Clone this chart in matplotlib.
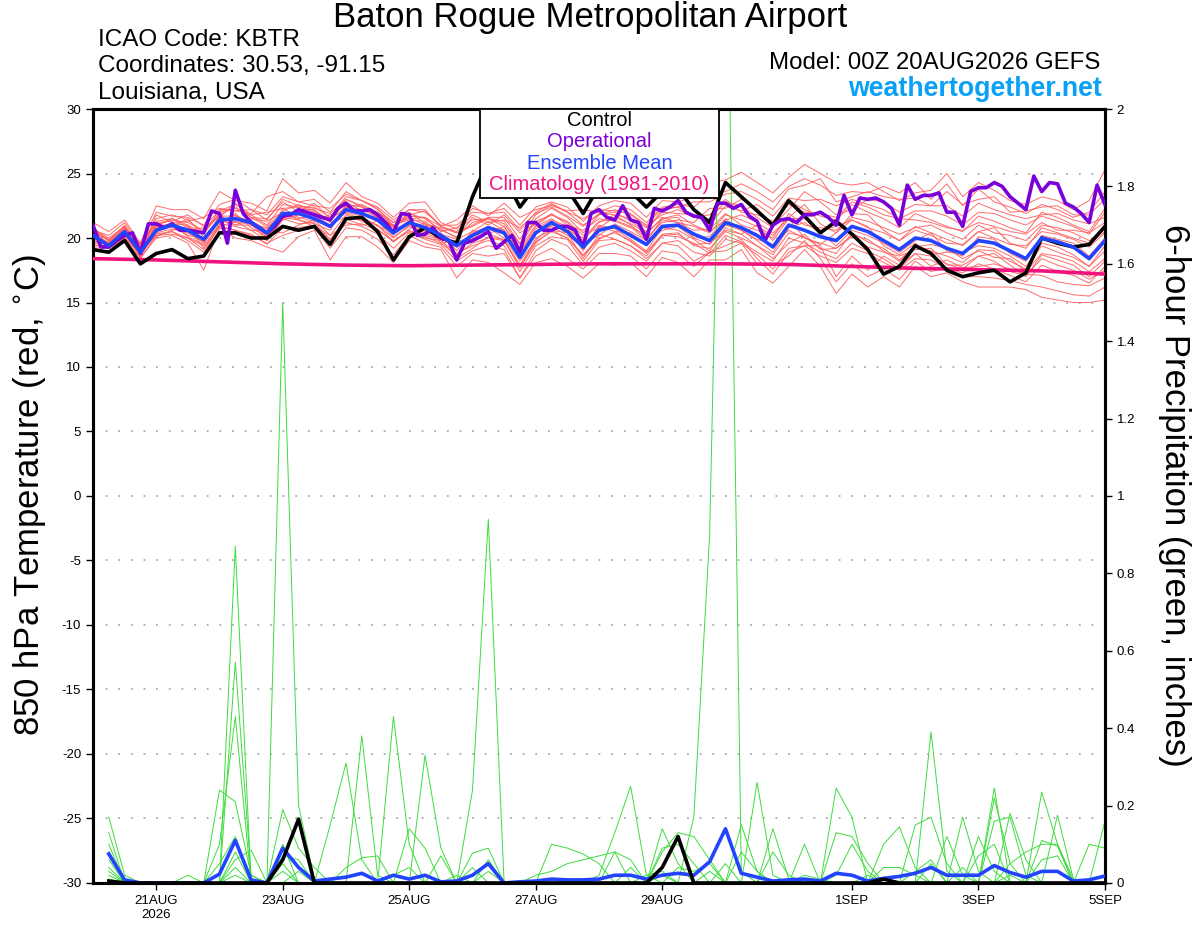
import numpy as np
import matplotlib
matplotlib.use('Agg')
import matplotlib.pyplot as plt
from matplotlib.patches import Rectangle

plt.rcParams['font.family'] = ['Liberation Sans', 'DejaVu Sans']
plt.rcParams['axes.unicode_minus'] = False

# 850 hPa temperature, 6-hourly from 20AUG 00Z to 5SEP 00Z (65 steps)
control_t = [19.1, 18.9, 19.8, 18.0, 18.8, 19.1, 18.4, 18.6, 20.4, 20.4,
             20.0, 20.0, 20.9, 20.6, 20.9, 19.5, 21.5, 21.6, 20.5, 18.3,
             20.1, 20.8, 20.0, 19.6, 23.2, 26.0, 24.8, 22.4, 24.0, 24.5,
             23.8, 21.9, 24.0, 23.8, 23.6, 22.4, 23.6, 23.8, 22.2, 21.2,
             24.3, 23.2, 22.1, 21.0, 22.9, 21.7, 20.4, 21.3, 20.3, 19.1,
             17.2, 17.8, 19.4, 18.8, 17.5, 17.0, 17.3, 17.5, 16.6, 17.3,
             20.0, 19.6, 19.3, 19.5, 20.9]

mean_t = [20.2, 19.4, 20.5, 18.9, 20.6, 21.0, 20.6, 19.9, 21.4, 21.5,
          21.2, 20.4, 21.9, 21.9, 21.5, 20.9, 22.2, 21.9, 21.4, 20.4,
          21.2, 20.8, 20.2, 19.4, 20.2, 20.8, 20.4, 18.5, 20.4, 21.2,
          20.5, 19.3, 20.6, 20.9, 20.2, 19.5, 20.9, 21.0, 20.3, 19.8,
          21.2, 20.8, 20.2, 19.3, 21.0, 20.6, 20.1, 19.8, 20.9, 20.5,
          19.8, 19.1, 20.0, 19.8, 19.2, 18.8, 19.8, 19.6, 19.0, 18.4,
          20.0, 19.7, 19.3, 18.4, 19.8]

# operational run is 3-hourly (129 steps)
oper_t = [21.0, 19.3, 19.3, 19.8, 20.2, 20.4, 18.8, 21.1, 21.1, 20.8,
          21.1, 20.6, 20.6, 20.5, 20.4, 22.1, 21.9, 19.6, 23.7, 21.9,
          21.2, 20.8, 20.4, 20.9, 21.7, 21.8, 22.2, 22.0, 21.8, 21.6,
          21.4, 22.3, 22.7, 22.1, 22.1, 22.2, 21.8, 21.2, 20.4, 21.9,
          21.8, 20.2, 20.3, 20.8, 20.0, 19.8, 18.3, 19.6, 19.8, 20.1,
          20.5, 19.2, 19.7, 20.2, 18.9, 21.2, 21.2, 20.6, 20.6, 20.9,
          20.9, 20.6, 19.3, 21.9, 22.2, 21.6, 21.4, 22.5, 21.4, 21.2,
          19.9, 22.3, 22.1, 22.4, 22.9, 22.0, 21.7, 21.6, 20.6, 22.7,
          22.7, 22.3, 22.6, 21.7, 21.3, 19.8, 21.0, 21.4, 21.5, 21.2,
          21.8, 21.8, 22.0, 21.6, 21.0, 23.3, 21.8, 23.1, 23.0, 23.1,
          22.8, 22.3, 21.0, 24.1, 23.0, 23.3, 23.3, 23.5, 22.0, 22.0,
          20.9, 23.6, 23.9, 23.9, 24.3, 24.0, 23.2, 22.7, 22.2, 24.8,
          23.6, 24.3, 24.2, 22.7, 22.4, 21.9, 21.2, 24.1, 22.6]

# climatology, daily values
clim_t = [18.4, 18.3, 18.15, 18.0, 17.9, 17.85, 17.9, 17.95, 18.0,
          18.0, 18.0, 17.95, 17.8, 17.65, 17.55, 17.45, 17.2]

members_t = [
    [20.8, 19.8, 21.0, 19.2, 21.3, 21.5, 21.0, 20.3, 22.0, 22.3, 21.8, 21.0, 22.6, 22.4, 22.0, 21.3, 23.0, 22.5, 21.9, 20.8,
     21.9, 21.5, 20.6, 20.1, 21.2, 21.5, 21.3, 19.6, 21.5, 22.3, 21.6, 20.4, 21.8, 22.0, 21.3, 20.5, 22.2, 22.4, 21.6, 21.5,
     22.8, 22.5, 21.6, 20.8, 22.9, 22.2, 21.7, 21.4, 22.6, 22.0, 21.5, 20.8, 21.9, 21.4, 20.9, 20.5, 21.7, 21.3, 20.8, 20.4,
     22.0, 21.6, 21.0, 20.5, 22.3],
    [19.5, 19.2, 20.0, 18.4, 20.2, 20.5, 19.8, 18.9, 20.9, 20.6, 20.3, 19.5, 20.8, 20.8, 21.0, 19.8, 21.2, 20.9, 20.3, 19.2,
     20.4, 19.9, 19.5, 18.2, 19.0, 19.4, 19.1, 16.9, 19.0, 19.9, 19.4, 17.9, 19.3, 19.6, 19.0, 18.2, 19.6, 19.8, 18.9, 18.6,
     19.9, 19.6, 18.7, 17.6, 19.2, 19.4, 18.6, 18.1, 19.2, 18.8, 18.1, 17.5, 18.4, 18.3, 17.6, 17.3, 18.0, 17.6, 17.1, 16.6,
     17.9, 17.4, 17.1, 16.5, 17.8],
    [21.2, 20.5, 21.4, 19.6, 22.5, 22.2, 22.2, 21.5, 23.6, 22.9, 22.7, 22.1, 24.6, 23.5, 23.7, 22.7, 24.3, 23.2, 22.7, 21.6,
     22.7, 22.8, 21.2, 20.7, 22.3, 21.9, 22.3, 21.0, 22.4, 22.8, 22.4, 21.3, 22.5, 22.9, 22.7, 21.6, 22.9, 22.8, 23.2, 24.3,
     24.5, 25.1, 24.3, 23.5, 24.7, 25.7, 25.0, 24.3, 24.1, 24.3, 23.6, 22.9, 23.5, 23.7, 25.0, 23.2, 24.3, 23.7, 22.9, 22.6,
     23.2, 22.9, 22.2, 22.9, 25.3],
    [19.2, 19.3, 19.7, 18.5, 20.0, 20.2, 19.6, 17.5, 20.8, 20.0, 19.8, 19.3, 18.9, 20.1, 20.6, 18.3, 20.1, 20.1, 19.3, 18.1,
     19.8, 19.3, 19.1, 16.9, 18.3, 18.1, 17.3, 16.4, 18.1, 18.4, 17.8, 16.9, 18.0, 17.9, 18.1, 17.0, 18.5, 18.1, 17.0, 18.3,
     18.3, 19.1, 17.3, 16.5, 17.8, 19.1, 17.8, 15.7, 17.2, 16.2, 17.0, 16.2, 17.8, 17.0, 17.3, 16.6, 16.2, 16.2, 16.2, 16.0,
     15.4, 15.2, 15.0, 15.0, 15.2],
    [20.4, 19.9, 20.8, 19.0, 21.0, 21.4, 21.2, 20.6, 21.8, 21.0, 21.5, 21.3, 22.0, 21.4, 21.1, 20.6, 22.6, 22.4, 21.8, 20.9,
     21.6, 21.0, 20.7, 20.0, 21.6, 21.0, 21.8, 20.4, 21.1, 21.9, 21.0, 20.6, 21.5, 21.3, 20.8, 20.3, 21.6, 21.2, 20.9, 20.4,
     21.8, 21.4, 20.9, 20.2, 21.6, 22.6, 21.1, 20.4, 21.9, 21.8, 20.6, 19.8, 20.9, 20.4, 19.9, 19.4, 20.5, 20.8, 19.6, 19.2,
     20.8, 20.4, 20.0, 19.6, 20.5],
    [20.0, 19.5, 20.2, 18.8, 20.4, 20.7, 20.4, 19.7, 21.0, 21.9, 20.8, 20.1, 21.5, 22.2, 22.2, 21.2, 21.6, 21.4, 21.0, 20.0,
     21.0, 20.2, 19.9, 19.6, 19.7, 20.4, 19.8, 17.7, 20.0, 20.6, 20.0, 18.6, 19.9, 20.5, 19.7, 18.9, 20.3, 20.4, 19.4, 19.2,
     20.5, 20.0, 19.4, 18.7, 20.4, 20.1, 19.2, 18.8, 20.4, 19.7, 19.2, 18.3, 19.4, 19.0, 18.6, 18.1, 19.1, 19.0, 18.2, 17.6,
     19.4, 18.9, 18.5, 17.8, 19.0],
    [20.6, 20.2, 21.2, 19.4, 22.0, 21.7, 21.6, 21.0, 22.6, 23.0, 22.2, 21.8, 23.2, 22.8, 23.0, 22.0, 23.6, 22.9, 22.2, 21.2,
     22.2, 22.2, 20.9, 21.4, 22.5, 21.7, 22.7, 21.6, 22.2, 22.5, 22.1, 22.2, 22.0, 22.5, 22.2, 21.2, 22.4, 22.6, 22.4, 23.4,
     23.6, 24.2, 23.6, 22.8, 24.0, 24.6, 24.1, 23.3, 23.6, 23.5, 24.0, 23.5, 24.3, 23.0, 24.2, 22.5, 23.8, 22.8, 22.4, 21.9,
     22.6, 22.2, 21.6, 22.0, 23.6],
    [19.6, 19.6, 20.4, 19.1, 20.8, 20.9, 21.5, 20.1, 21.2, 21.8, 21.0, 20.8, 21.8, 22.0, 21.8, 21.0, 22.4, 22.2, 21.6, 20.6,
     21.3, 20.6, 20.4, 19.0, 20.6, 20.3, 20.9, 18.8, 20.7, 21.4, 20.9, 19.6, 20.2, 21.1, 20.5, 19.8, 21.5, 21.6, 20.0, 20.1,
     21.5, 20.6, 19.8, 18.9, 20.8, 21.2, 20.4, 19.4, 20.6, 20.2, 19.6, 18.9, 19.8, 20.4, 19.0, 18.6, 20.1, 19.9, 18.8, 18.2,
     20.2, 19.9, 19.6, 18.6, 20.0],
    [20.9, 19.3, 20.9, 19.0, 20.5, 21.1, 20.1, 19.5, 21.6, 21.3, 21.4, 20.0, 22.3, 21.6, 21.3, 21.8, 21.9, 21.5, 21.0, 19.7,
     20.7, 21.2, 19.6, 19.8, 19.9, 20.8, 20.0, 18.2, 19.8, 21.0, 20.8, 19.0, 21.0, 20.7, 19.9, 19.0, 20.8, 20.6, 19.9, 19.0,
     20.8, 20.3, 21.0, 19.8, 21.5, 20.0, 19.5, 20.4, 21.4, 20.9, 19.4, 18.7, 19.6, 18.7, 18.9, 18.9, 19.4, 19.2, 18.6, 17.8,
     19.6, 19.3, 18.7, 17.8, 19.4],
    [20.1, 19.7, 20.6, 18.7, 21.8, 21.2, 21.3, 21.6, 22.3, 22.1, 21.9, 23.2, 23.6, 22.8, 22.5, 22.3, 23.4, 22.9, 22.3, 20.9,
     21.8, 22.1, 20.9, 20.5, 21.8, 21.2, 21.4, 20.8, 21.9, 22.4, 21.7, 20.9, 21.9, 21.8, 21.5, 20.8, 22.0, 21.9, 21.8, 21.0,
     22.5, 22.1, 22.6, 21.7, 23.1, 22.9, 23.0, 22.5, 23.0, 22.6, 22.2, 21.5, 22.1, 22.1, 21.7, 21.0, 22.0, 21.9, 21.4, 21.0,
     21.7, 21.3, 20.9, 20.3, 22.0],
    [19.8, 19.5, 20.1, 19.3, 20.1, 20.6, 20.9, 19.2, 21.1, 20.9, 20.6, 20.5, 20.4, 21.0, 21.4, 20.2, 21.0, 21.1, 20.6, 19.8,
     20.5, 20.0, 19.8, 18.8, 19.4, 19.8, 19.4, 17.4, 19.4, 20.1, 19.9, 18.2, 19.8, 19.9, 19.4, 18.4, 19.6, 19.4, 18.2, 18.9,
     19.4, 19.9, 18.4, 17.2, 18.9, 19.4, 19.4, 17.0, 18.6, 17.5, 18.6, 17.9, 18.8, 17.8, 18.3, 17.7, 17.8, 18.0, 17.6, 17.2,
     17.1, 16.6, 16.4, 16.3, 16.9],
    [20.5, 19.8, 20.7, 19.5, 21.1, 20.8, 20.6, 20.8, 21.6, 22.7, 21.6, 21.5, 22.8, 22.0, 22.7, 21.5, 22.8, 22.1, 22.0, 21.0,
     21.7, 21.6, 20.5, 20.8, 21.4, 21.5, 21.1, 19.5, 21.3, 21.8, 21.2, 19.8, 21.2, 21.8, 21.0, 20.0, 21.2, 21.4, 21.2, 22.3,
     22.3, 23.0, 22.3, 21.0, 22.2, 23.6, 22.8, 21.8, 22.2, 23.0, 22.8, 22.0, 22.6, 22.5, 22.5, 21.7, 22.7, 22.2, 21.8, 21.5,
     21.8, 21.9, 21.4, 21.1, 21.6],
    [19.9, 19.6, 20.5, 18.6, 20.5, 21.0, 20.2, 20.0, 21.3, 21.2, 21.1, 19.8, 21.4, 21.8, 21.6, 20.9, 22.0, 21.7, 20.9, 20.5,
     21.1, 20.5, 20.1, 19.3, 20.4, 20.9, 20.6, 18.4, 20.5, 20.9, 20.2, 19.3, 20.9, 20.5, 20.4, 19.5, 20.6, 20.9, 20.0, 19.5,
     21.0, 20.6, 19.9, 19.5, 20.6, 20.0, 19.6, 19.2, 20.2, 19.9, 19.0, 18.2, 19.3, 19.5, 19.2, 18.4, 19.0, 18.5, 18.4, 17.4,
     18.8, 18.6, 18.2, 17.4, 18.4],
    [20.3, 19.4, 20.3, 19.0, 20.9, 21.1, 21.0, 19.8, 21.7, 21.7, 21.3, 20.7, 21.9, 21.5, 21.8, 20.8, 22.5, 21.8, 21.6, 21.0,
     21.4, 21.3, 20.3, 19.9, 20.5, 21.3, 20.6, 18.9, 20.9, 21.5, 20.6, 20.0, 21.3, 21.4, 20.9, 19.8, 21.4, 21.2, 20.6, 20.7,
     21.9, 21.0, 20.6, 20.0, 21.9, 21.0, 20.8, 20.6, 21.6, 21.3, 20.8, 20.3, 20.8, 21.0, 20.4, 19.9, 21.0, 20.4, 20.2, 19.8,
     21.0, 20.8, 20.4, 19.8, 20.7],
    [19.8, 19.2, 20.0, 18.9, 20.3, 20.5, 20.0, 19.1, 20.9, 21.3, 20.6, 19.8, 21.6, 21.4, 20.9, 20.2, 21.8, 21.3, 20.7, 19.7,
     20.6, 20.1, 19.6, 18.7, 19.6, 20.0, 19.8, 17.9, 19.7, 20.5, 20.0, 18.7, 20.0, 20.4, 19.8, 18.8, 20.2, 20.1, 19.6, 18.8,
     20.2, 19.7, 18.9, 18.2, 20.0, 19.6, 18.9, 18.4, 19.6, 19.0, 18.4, 17.6, 18.8, 18.6, 18.0, 17.6, 18.6, 18.8, 17.9, 17.0,
     18.7, 18.3, 17.9, 17.0, 18.2],
    [20.7, 20.0, 20.9, 19.4, 21.5, 21.8, 21.4, 20.4, 22.2, 22.1, 22.2, 21.4, 23.0, 22.5, 22.3, 21.9, 23.0, 22.4, 21.6, 20.9,
     22.0, 21.1, 20.8, 20.4, 21.0, 21.6, 21.6, 19.9, 21.8, 22.6, 22.0, 21.0, 21.8, 22.2, 21.8, 20.9, 21.8, 22.2, 21.6, 21.8,
     23.0, 22.0, 21.8, 21.3, 22.6, 22.0, 21.9, 21.6, 22.8, 22.4, 21.8, 21.5, 21.4, 21.2, 20.8, 20.6, 21.2, 20.9, 20.5, 20.3,
     21.2, 20.6, 20.6, 20.4, 21.2],
    [20.0, 19.3, 20.3, 18.5, 20.7, 20.9, 20.5, 19.6, 21.4, 21.0, 21.0, 20.2, 21.5, 21.1, 21.2, 19.9, 21.5, 21.0, 21.3, 20.1,
     20.9, 20.4, 19.9, 18.4, 19.2, 20.1, 19.9, 17.7, 19.6, 20.6, 20.4, 18.4, 20.3, 19.9, 19.4, 18.6, 20.2, 20.3, 19.5, 19.6,
     20.6, 20.3, 19.4, 18.4, 19.6, 20.3, 19.1, 19.2, 20.1, 19.3, 18.9, 18.6, 19.1, 19.2, 17.9, 17.9, 18.6, 18.2, 17.4, 17.1,
     18.4, 17.9, 17.5, 16.8, 17.5],
    [20.6, 19.8, 20.6, 19.2, 21.0, 21.5, 20.8, 20.4, 21.8, 22.4, 21.6, 20.9, 22.1, 22.6, 22.1, 21.4, 22.4, 22.6, 22.0, 21.2,
     21.5, 21.6, 20.9, 20.4, 20.9, 21.5, 20.9, 19.2, 21.0, 21.8, 21.3, 20.2, 20.8, 21.6, 21.1, 20.4, 21.5, 21.8, 21.0, 20.5,
     21.4, 21.8, 21.2, 20.4, 21.5, 21.5, 20.6, 20.9, 21.4, 20.8, 20.4, 19.8, 20.6, 20.2, 19.6, 19.5, 20.5, 20.0, 19.5, 19.4,
     20.5, 20.3, 19.9, 19.3, 20.4],
    [19.4, 19.4, 19.9, 18.8, 20.2, 20.3, 20.0, 19.4, 20.9, 20.6, 20.2, 19.6, 20.2, 20.6, 20.8, 19.2, 20.8, 20.6, 19.9, 18.7,
     20.2, 19.6, 19.3, 17.8, 18.8, 18.6, 18.8, 16.9, 18.6, 19.2, 18.4, 17.6, 18.8, 18.8, 18.6, 17.6, 19.0, 18.8, 17.8, 18.9,
     19.0, 19.6, 18.0, 17.9, 18.6, 19.8, 18.4, 16.6, 18.0, 17.0, 17.6, 16.8, 18.2, 17.4, 17.7, 17.0, 17.0, 16.9, 16.7, 16.4,
     16.2, 15.9, 15.6, 15.5, 16.2],
    [20.4, 19.6, 20.8, 19.6, 21.2, 21.3, 21.8, 20.9, 22.1, 22.6, 21.8, 22.0, 22.3, 22.4, 22.4, 21.6, 23.2, 22.9, 22.4, 21.4,
     22.2, 22.0, 21.0, 21.0, 22.0, 21.9, 22.0, 20.6, 22.0, 22.7, 22.0, 21.5, 22.2, 22.1, 21.9, 21.0, 22.3, 22.4, 22.8, 22.8,
     23.4, 23.6, 23.0, 22.2, 23.8, 24.1, 24.6, 22.8, 23.2, 23.6, 23.2, 23.0, 23.1, 22.5, 23.6, 22.6, 23.0, 23.2, 22.0, 22.1,
     22.4, 22.5, 21.8, 21.8, 23.0],
]

# 6-hour precipitation (inches), 20AUG 06Z to 5SEP 00Z (64 steps)
control_p = [0.005, 0, 0, 0, 0, 0, 0, 0, 0, 0,
             0, 0.06, 0.165, 0, 0, 0, 0, 0, 0, 0,
             0, 0, 0, 0, 0, 0, 0, 0, 0, 0,
             0, 0, 0, 0, 0, 0.04, 0.12, 0, 0, 0,
             0, 0, 0, 0, 0, 0, 0, 0, 0, 0.01,
             0, 0, 0, 0, 0, 0, 0, 0, 0, 0,
             0, 0, 0, 0]

mean_p = [0.075, 0.008, 0, 0, 0, 0, 0, 0.023, 0.11, 0.008,
          0, 0.09, 0.04, 0.005, 0.01, 0.015, 0.025, 0.005, 0.02, 0.01,
          0.02, 0.003, 0.005, 0.02, 0.05, 0, 0.003, 0.005, 0.01, 0.008,
          0.008, 0.01, 0.02, 0.02, 0.01, 0.02, 0.025, 0.02, 0.055, 0.14,
          0.025, 0.015, 0.005, 0.008, 0.01, 0.005, 0.025, 0.02, 0.005, 0.012,
          0.017, 0.025, 0.04, 0.02, 0.02, 0.02, 0.045, 0.027, 0.015, 0.03,
          0.03, 0.005, 0.008, 0.018]

# member precipitation, only non-zero steps {step: inches}
members_p = [
    {1: 0.17, 2: 0.02, 9: 0.87, 17: 0.38, 18: 0.02, 32: 0.02, 33: 0.13, 34: 0.25, 35: 0.02, 53: 0.39, 54: 0.03},
    {1: 0.13, 9: 0.57, 10: 0.02, 12: 1.5, 13: 0.2, 14: 0.01, 42: 0.26, 43: 0.02, 57: 0.245},
    {1: 0.1, 8: 0.1, 9: 0.43, 19: 0.43, 20: 0.1, 47: 0.245, 48: 0.17},
    {1: 0.08, 8: 0.24, 9: 0.21, 10: 0.02, 21: 0.33, 22: 0.09, 57: 0.22, 58: 0.05},
    {1: 0.06, 24: 0.24, 25: 0.94, 60: 0.235, 61: 0.1},
    {1: 0.04, 38: 0.17, 39: 0.9, 40: 2.8, 41: 0.03, 55: 0.17, 56: 0.03},
    {1: 0.03, 9: 0.08, 15: 0.15, 16: 0.31, 17: 0.06, 52: 0.15, 53: 0.17, 54: 0.05},
    {1: 0.02, 12: 0.19, 13: 0.09, 14: 0.04, 20: 0.14, 21: 0.09, 61: 0.175, 62: 0.01},
    {9: 0.06, 10: 0.085, 12: 0.1, 24: 0.077, 25: 0.09, 29: 0.1, 30: 0.09, 31: 0.075, 32: 0.05, 45: 0.1, 64: 0.16},
    {12: 0.07, 13: 0.06, 36: 0.14, 37: 0.05, 41: 0.15, 42: 0.03, 50: 0.1, 51: 0.145, 52: 0.04},
    {9: 0.04, 16: 0.04, 17: 0.065, 18: 0.07, 36: 0.08, 37: 0.13, 38: 0.12, 39: 0.06, 58: 0.18, 59: 0.06},
    {8: 0.05, 9: 0.12, 22: 0.07, 33: 0.08, 34: 0.06, 41: 0.08, 42: 0.03, 47: 0.13, 48: 0.12, 49: 0.05, 57: 0.16, 58: 0.17, 59: 0.02},
    {19: 0.02, 20: 0.04, 25: 0.06, 28: 0.02, 29: 0.03, 30: 0.05, 31: 0.06, 32: 0.07, 33: 0.08, 36: 0.09, 37: 0.1, 38: 0.05, 63: 0.1, 64: 0.09},
    {6: 0.02, 12: 0.05, 24: 0.04, 40: 0.05, 43: 0.14, 44: 0.01, 54: 0.12, 55: 0.02, 60: 0.11, 61: 0.095},
    {2: 0.01, 23: 0.02, 43: 0.08, 44: 0.02, 50: 0.04, 51: 0.04, 52: 0.02, 56: 0.12, 57: 0.03, 63: 0.01, 64: 0.02},
    {9: 0.02, 13: 0.03, 37: 0.04, 38: 0.03, 39: 0.05, 47: 0.02, 48: 0.1, 49: 0.03, 53: 0.05, 56: 0.07, 57: 0.1, 60: 0.06, 61: 0.07},
    {1: 0.01, 29: 0.01, 35: 0.02, 36: 0.03, 39: 0.03, 45: 0.02, 46: 0.01, 52: 0.03, 53: 0.06, 58: 0.05, 59: 0.08, 60: 0.1, 61: 0.1, 62: 0.01},
    {12: 0.03, 25: 0.03, 34: 0.04, 36: 0.02, 49: 0.02, 55: 0.04, 58: 0.02},
]

tick_pos = [4, 12, 20, 28, 36, 48, 56, 64]
tick_lbl = ['21AUG\n2026', '23AUG', '25AUG', '27AUG', '29AUG', '1SEP', '3SEP', '5SEP']

legend_items = [('Control', 'black'), ('Operational', '#7a00d9'),
                ('Ensemble Mean', '#2244ff'), ('Climatology (1981-2010)', '#f0137d')]

C_RED = '#ff5c5c'
C_GREEN = '#3ddc3d'
C_OPER = '#7a00d9'
C_MEAN = '#2244ff'
C_CLIM = '#f0137d'

x6 = np.arange(len(control_t))
x3 = np.arange(len(oper_t)) / 2.0
xd = np.arange(len(clim_t)) * 4
xp = np.arange(1, len(control_p) + 1)

fig = plt.figure(figsize=(12, 9.27), dpi=100)
ax = fig.add_axes([0.0775, 0.0475, 0.8433, 0.8349])
ax2 = ax.twinx()

# ensemble members (temperature)
for m in members_t:
    ax.plot(x6, m, color=C_RED, lw=0.7, alpha=0.9, zorder=2)

ax.set_xlim(0, 64)
ax.set_ylim(-30, 30)
ax.set_yticks(np.arange(-30, 31, 5))
for v in range(-25, 30, 5):
    ax.axhline(v, color='#aaaaaa', lw=1.3, ls=(0, (1, 6)), zorder=1)
ax.set_xticks(tick_pos)
ax.set_xticklabels(tick_lbl)

# ensemble members (precipitation)
for d in members_p:
    p = np.zeros(len(xp))
    for k, v in d.items():
        p[k - 1] = v
    ax2.plot(xp, p, color=C_GREEN, lw=0.7, zorder=2)

ax2.plot(xp, mean_p, color=C_MEAN, lw=2.6, zorder=4)
ax2.plot(xp, control_p, color='black', lw=2.6, zorder=4)

# main temperature lines on top, drawn in temperature coordinates
T = ax.transData
ax2.plot(xd, clim_t, color=C_CLIM, lw=2.6, zorder=5, transform=T)
ax2.plot(x6, control_t, color='black', lw=2.6, zorder=6, transform=T)
ax2.plot(x3, oper_t, color=C_OPER, lw=2.6, zorder=6, transform=T)
ax2.plot(x6, mean_t, color=C_MEAN, lw=2.6, zorder=7, transform=T)

ax2.set_xlim(0, 64)
ax2.set_ylim(0, 2)
ax2.set_yticks(np.arange(0, 2.01, 0.2))
ax2.set_yticklabels(['0', '0.2', '0.4', '0.6', '0.8', '1', '1.2', '1.4', '1.6', '1.8', '2'])

for a in (ax, ax2):
    for s in a.spines.values():
        s.set_linewidth(2.2)
    a.tick_params(labelsize=9.5, length=5, width=1, direction='out')

# legend box
ax2.add_patch(Rectangle((0.3824, 0.885), 0.2362, 0.115, transform=ax2.transAxes,
                        facecolor='white', edgecolor='black', lw=1.3, zorder=20))
for k, (txt, col) in enumerate(legend_items):
    ax2.text(0.5005, 0.985 - k * 0.0275, txt, color=col, fontsize=14.5,
             ha='center', va='center', transform=ax2.transAxes, zorder=21)

fig.text(0.4917, 0.9806, 'Baton Rogue Metropolitan Airport', fontsize=25,
         ha='center', va='center')
fig.text(0.0817, 0.9569, 'ICAO Code: KBTR', fontsize=17.5, va='center')
fig.text(0.0817, 0.9288, 'Coordinates: 30.53, -91.15', fontsize=17.5, va='center')
fig.text(0.0817, 0.8997, 'Louisiana, USA', fontsize=17.5, va='center')
fig.text(0.9167, 0.932, 'Model: 00Z 20AUG2026 GEFS', fontsize=17.3, ha='right', va='center')
fig.text(0.918, 0.904, 'weathertogether.net', fontsize=19.3, fontweight='bold',
         color='#0aa0f5', ha='right', va='center')
fig.text(0.025, 0.466, r'850 hPa Temperature (red, $^{\circ}$C)', fontsize=25,
         rotation=90, ha='center', va='center')
fig.text(0.979, 0.466, '6-hour Precipitation (green, inches)', fontsize=25,
         rotation=-90, ha='center', va='center')

fig.savefig('out.png', dpi=100)
